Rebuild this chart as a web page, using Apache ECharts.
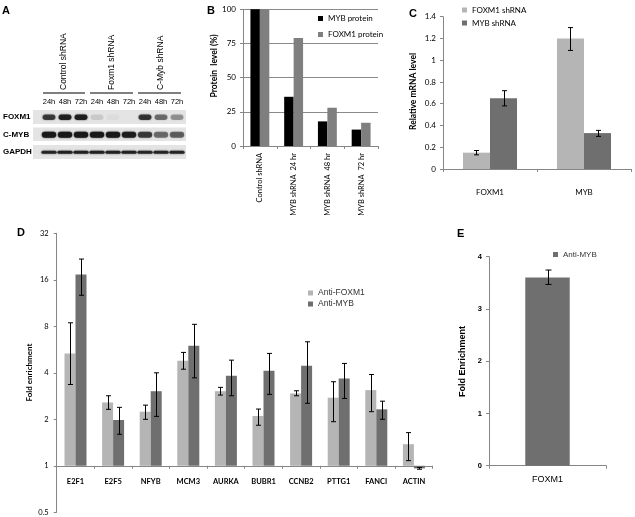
<!DOCTYPE html>
<html><head><meta charset="utf-8">
<script src="https://cdn.jsdelivr.net/npm/echarts@6/dist/echarts.min.js"></script>
<style>html,body{margin:0;padding:0;background:#fff}#c{width:635px;height:517px}</style>
</head><body><div id="c"></div>
<script>
// ---------- Panel A (western blot, band darkness 0..1) ----------
const blotLanes = ['24h','48h','72h','24h','48h','72h','24h','48h','72h'];
const blotGroups = ['Control shRNA','Foxm1 shRNA','C-Myb shRNA'];
const blotRows = ['FOXM1','C-MYB','GAPDH'];
const bandFOXM1 = [0.72,0.88,0.9,0.12,0.04,0.0,0.75,0.5,0.35];
const bandCMYB  = [0.95,0.95,0.95,0.95,0.95,0.9,0.72,0.5,0.55];
const bandGAPDH = [0.85,0.88,0.88,0.88,0.88,0.88,0.85,0.85,0.85];

// ---------- Panel B ----------
const bCategories = ['Control shRNA','MYB shRNA  24 hr','MYB shRNA  48 hr','MYB shRNA  72 hr'];
const bMYBprotein = [100,36,18,12];
const bFOXM1protein = [100,79,28,17];
const bTicks = [0,25,50,75,100];

// ---------- Panel C ----------
const cCategories = ['FOXM1','MYB'];
const cFOXM1sh = [0.15,1.2];
const cFOXM1shLo = [0.13,1.09];
const cFOXM1shHi = [0.17,1.30];
const cMYBsh = [0.65,0.33];
const cMYBshLo = [0.58,0.30];
const cMYBshHi = [0.72,0.355];
const cTicks = [0,0.2,0.4,0.6,0.8,1,1.2,1.4];

// ---------- Panel D (log2 axis) ----------
const dCategories = ['E2F1','E2F5','NFYB','MCM3','AURKA','BUBR1','CCNB2','PTTG1','FANCI','ACTIN'];
const dAntiFOXM1   = [5.34,2.57,2.24,4.78,3.04,2.10,2.94,2.76,3.09,1.38];
const dAntiFOXM1Lo = [3.36,2.32,2.00,4.22,2.87,1.83,2.84,1.93,2.24,1.08];
const dAntiFOXM1Hi = [8.43,2.84,2.47,5.42,3.22,2.33,3.06,3.50,3.90,1.64];
const dAntiMYB     = [17.3,1.98,3.04,5.98,3.83,4.12,4.44,3.68,2.32,0.962];
const dAntiMYBLo   = [12.7,1.60,2.09,3.71,2.84,2.90,2.54,2.73,2.00,0.95];
const dAntiMYBHi   = [21.8,2.39,4.00,8.24,4.83,5.34,6.35,4.60,2.62,0.975];
const dTicks = [0.5,1,2,4,8,16,32];

// ---------- Panel E ----------
const eCategories = ['FOXM1'];
const eAntiMYB = [3.6];
const eAntiMYBLo = [3.47];
const eAntiMYBHi = [3.745];
const eTicks = [0,1,2,3,4];

// ---------- styles ----------
const ARIAL = 'Liberation Sans, Arial, sans-serif';
const CAL = 'Lato, sans-serif';
const LIGHT = '#b5b5b5', DARK = '#6f6f6f', AXC = '#868686';
const bandStyle = {heights:[5.5,6,3], widthFrac:[0.8,0.9,0.95], color:'#161616'};
const dGridHeight = 279;
// the category axis of D sits on the value 1 line (one step above the 0.5 bottom)
const dAxisOffset = -dGridHeight / (dTicks.length - 1);

const log2 = v => Math.log2(v);

// blot data
const blotData = [];
[bandFOXM1, bandCMYB, bandGAPDH].forEach((arr, r) => arr.forEach((v, l) => blotData.push([l, r, v])));

function renderBand(params, api) {
  const lane = api.value(0), row = api.value(1), inten = api.value(2);
  const c = api.coord([lane, row]);
  const lw = api.size([1, 0])[0];
  const h = bandStyle.heights[row], w = lw * bandStyle.widthFrac[row];
  return {type:'rect', shape:{x:c[0]-w/2, y:c[1]-h/2, width:w, height:h, r:h/2},
    style:{fill:bandStyle.color, opacity:inten, shadowBlur:2, shadowColor:'rgba(0,0,0,'+(inten*0.8)+')'}};
}

function errRenderer(sign, gap, cap) {
  return function (params, api) {
    const x = api.value(0);
    const p1 = api.coord([x, api.value(1)]);
    const p2 = api.coord([x, api.value(2)]);
    const cw = api.size([1, 0])[0];
    const bw = cw * (1 - gap) / 2;
    const cx = Math.round(p1[0] + sign * bw / 2) + 0.5;
    const st = {stroke:'#000', lineWidth:1};
    return {type:'group', children:[
      {type:'line', shape:{x1:cx, y1:p1[1], x2:cx, y2:p2[1]}, style:st},
      {type:'line', shape:{x1:cx-cap, y1:p1[1], x2:cx+cap, y2:p1[1]}, style:st},
      {type:'line', shape:{x1:cx-cap, y1:p2[1], x2:cx+cap, y2:p2[1]}, style:st}
    ]};
  };
}
const errData = (lo, hi, f) => lo.map((v, i) => [i, f ? f(v) : v, f ? f(hi[i]) : hi[i]]);

const bGap = 0.44, cGap = 0.425, dGap = 0.415, eGap = 0.62;

function valAxis(gridIndex, extra) {
  return Object.assign({
    type:'value', gridIndex,
    axisLine:{show:true, lineStyle:{color:AXC, width:1}},
    axisTick:{show:true, length:3, lineStyle:{color:AXC}},
    axisLabel:{fontSize:8, color:'#000', fontFamily:CAL, margin:7},
    splitLine:{show:false}
  }, extra);
}
function catAxis(gridIndex, data, extra) {
  return Object.assign({
    type:'category', gridIndex, data,
    axisLine:{show:true, onZero:false, lineStyle:{color:AXC, width:1}},
    axisTick:{show:true, length:3, lineStyle:{color:AXC}},
    axisLabel:{fontSize:7.5, color:'#000', fontFamily:CAL, interval:0}
  }, extra);
}

const option = {
  backgroundColor:'#fff',
  animation:false,
  textStyle:{fontFamily:ARIAL},
  grid:[
    {left:41, top:108.5, width:144, height:52.5, outerBoundsMode:'none'},
    {left:243, top:9.3, width:135, height:136.7, outerBoundsMode:'none'},
    {left:443, top:16.7, width:188, height:152.3, outerBoundsMode:'none'},
    {left:56.7, top:233.3, width:376, height:dGridHeight, outerBoundsMode:'none'},
    {left:489, top:256.7, width:117, height:209, outerBoundsMode:'none'}
  ],
  xAxis:[
    {type:'category', gridIndex:0, data:blotLanes, position:'top',
      axisLine:{show:false}, axisTick:{show:false},
      axisLabel:{fontSize:7.5, color:'#000', fontFamily:ARIAL, margin:3, interval:0}},
    catAxis(1, bCategories, {axisLabel:{fontSize:7.5, color:'#000', fontFamily:CAL, interval:0, rotate:90, margin:7}}),
    catAxis(2, cCategories, {axisLabel:{fontSize:8, color:'#000', fontFamily:CAL, interval:0, margin:19}}),
    catAxis(3, dCategories, {position:'bottom', offset:dAxisOffset,
      axisLabel:{fontSize:7.5, color:'#000', fontFamily:CAL, fontWeight:'bold', interval:0, margin:12}}),
    catAxis(4, eCategories, {axisLabel:{fontSize:9, color:'#000', fontFamily:ARIAL, interval:0, margin:9}})
  ],
  yAxis:[
    {type:'category', gridIndex:0, data:blotRows, inverse:true,
      axisLine:{show:false}, axisTick:{show:false},
      axisLabel:{fontSize:8, fontWeight:'bold', color:'#000', fontFamily:ARIAL, align:'left', margin:38}},
    valAxis(1, {min:bTicks[0], max:bTicks[bTicks.length-1], interval:bTicks[1]-bTicks[0],
      splitLine:{show:true, lineStyle:{color:'#8a8a8a', width:1}}}),
    valAxis(2, {min:cTicks[0], max:cTicks[cTicks.length-1], interval:0.2,
      axisLabel:{fontSize:8, color:'#000', fontFamily:CAL, margin:7, formatter:v => String(+v.toFixed(1))}}),
    valAxis(3, {min:log2(dTicks[0]), max:log2(dTicks[dTicks.length-1]), interval:1,
      axisLabel:{fontSize:7.5, color:'#000', fontFamily:CAL, margin:8, formatter:v => String(Math.pow(2, v))}}),
    valAxis(4, {min:eTicks[0], max:eTicks[eTicks.length-1], interval:1,
      axisLabel:{fontSize:7.5, fontWeight:'bold', color:'#000', fontFamily:ARIAL, margin:7}})
  ],
  legend:[
    {data:['MYB protein','FOXM1 protein'], orient:'vertical', left:318, top:14, padding:0, itemGap:7,
      itemWidth:5, itemHeight:5, icon:'rect', selectedMode:false,
      textStyle:{fontSize:8, fontFamily:CAL, color:'#000', lineHeight:9}},
    {data:['FOXM1 shRNA','MYB shRNA'], orient:'vertical', left:462, top:5.5, padding:0, itemGap:4,
      itemWidth:5, itemHeight:5, icon:'rect', selectedMode:false,
      textStyle:{fontSize:8, fontFamily:CAL, color:'#000', lineHeight:9}},
    {data:['Anti-FOXM1','Anti-MYB'], orient:'vertical', left:308, top:288.5, padding:0, itemGap:2,
      itemWidth:5, itemHeight:5, icon:'rect', selectedMode:false,
      textStyle:{fontSize:8.5, fontFamily:ARIAL, color:'#333', lineHeight:9}},
    {data:['Anti-MYB'], orient:'vertical', left:553, top:250, padding:0,
      itemWidth:5, itemHeight:5, icon:'rect', selectedMode:false,
      textStyle:{fontSize:8, fontFamily:ARIAL, color:'#333', lineHeight:9}}
  ],
  series:[
    {type:'custom', xAxisIndex:0, yAxisIndex:0, data:blotData, renderItem:renderBand, silent:true, z:3},

    {type:'bar', name:'MYB protein', xAxisIndex:1, yAxisIndex:1, data:bMYBprotein,
      itemStyle:{color:'#000'}, barGap:'0%', barCategoryGap:(bGap*100)+'%'},
    {type:'bar', name:'FOXM1 protein', xAxisIndex:1, yAxisIndex:1, data:bFOXM1protein,
      itemStyle:{color:'#7f7f7f'}, barGap:'0%', barCategoryGap:(bGap*100)+'%'},

    {type:'bar', name:'FOXM1 shRNA', xAxisIndex:2, yAxisIndex:2, data:cFOXM1sh,
      itemStyle:{color:LIGHT}, barGap:'0%', barCategoryGap:(cGap*100)+'%'},
    {type:'bar', name:'MYB shRNA', xAxisIndex:2, yAxisIndex:2, data:cMYBsh,
      itemStyle:{color:DARK}, barGap:'0%', barCategoryGap:(cGap*100)+'%'},
    {type:'custom', xAxisIndex:2, yAxisIndex:2, data:errData(cFOXM1shLo, cFOXM1shHi),
      renderItem:errRenderer(-1, cGap, 2.5), z:5, silent:true},
    {type:'custom', xAxisIndex:2, yAxisIndex:2, data:errData(cMYBshLo, cMYBshHi),
      renderItem:errRenderer(1, cGap, 2.5), z:5, silent:true},

    {type:'bar', name:'Anti-FOXM1', xAxisIndex:3, yAxisIndex:3, data:dAntiFOXM1.map(log2),
      itemStyle:{color:LIGHT}, barGap:'0%', barCategoryGap:(dGap*100)+'%'},
    {type:'bar', name:'Anti-MYB', xAxisIndex:3, yAxisIndex:3, data:dAntiMYB.map(log2),
      itemStyle:{color:DARK}, barGap:'0%', barCategoryGap:(dGap*100)+'%'},
    {type:'custom', xAxisIndex:3, yAxisIndex:3, data:errData(dAntiFOXM1Lo, dAntiFOXM1Hi, log2),
      renderItem:errRenderer(-1, dGap, 2.5), z:5, silent:true},
    {type:'custom', xAxisIndex:3, yAxisIndex:3, data:errData(dAntiMYBLo, dAntiMYBHi, log2),
      renderItem:errRenderer(1, dGap, 2.5), z:5, silent:true},

    {type:'bar', name:'Anti-MYB', xAxisIndex:4, yAxisIndex:4, data:eAntiMYB,
      itemStyle:{color:DARK}, barCategoryGap:(eGap*100)+'%'},
    {type:'custom', xAxisIndex:4, yAxisIndex:4, data:errData(eAntiMYBLo, eAntiMYBHi),
      renderItem:errRenderer(0, eGap, 3), z:5, silent:true}
  ],
  graphic:[
    // panel letters
    {type:'text', left:2, top:5, style:{text:'A', font:'bold 11px '+ARIAL, fill:'#000'}},
    {type:'text', left:207, top:5, style:{text:'B', font:'bold 11px '+ARIAL, fill:'#000'}},
    {type:'text', left:409, top:8, style:{text:'C', font:'bold 11px '+ARIAL, fill:'#000'}},
    {type:'text', left:17, top:227, style:{text:'D', font:'bold 11px '+ARIAL, fill:'#000'}},
    {type:'text', left:457, top:228, style:{text:'E', font:'bold 11px '+ARIAL, fill:'#000'}},
    // blot backgrounds
    {type:'rect', z:-1, shape:{x:33, y:110, width:153, height:14}, style:{fill:'#e4e4e4'}},
    {type:'rect', z:-1, shape:{x:33, y:127.5, width:153, height:13.5}, style:{fill:'#e4e4e4'}},
    {type:'rect', z:-1, shape:{x:33, y:145, width:153, height:14}, style:{fill:'#e4e4e4'}},
    // blot group headers
    {type:'line', shape:{x1:43, y1:93, x2:85, y2:93}, style:{stroke:'#555', lineWidth:1.5}},
    {type:'line', shape:{x1:90, y1:93, x2:133, y2:93}, style:{stroke:'#555', lineWidth:1.5}},
    {type:'line', shape:{x1:138, y1:93, x2:181, y2:93}, style:{stroke:'#555', lineWidth:1.5}},
    {type:'text', x:64, y:90, rotation:Math.PI/2, style:{text:blotGroups[0], font:'8.5px '+ARIAL, fill:'#000', align:'left', verticalAlign:'middle'}},
    {type:'text', x:112, y:90, rotation:Math.PI/2, style:{text:blotGroups[1], font:'8.5px '+ARIAL, fill:'#000', align:'left', verticalAlign:'middle'}},
    {type:'text', x:161, y:90, rotation:Math.PI/2, style:{text:blotGroups[2], font:'8.5px '+ARIAL, fill:'#000', align:'left', verticalAlign:'middle'}},
    // axis titles
    {type:'text', x:214, y:66, rotation:Math.PI/2, style:{text:'Protein  level (%)', font:'bold 8.5px '+CAL, fill:'#000', align:'center', verticalAlign:'middle'}},
    {type:'text', x:413, y:91.5, rotation:Math.PI/2, style:{text:'Relative mRNA level', font:'bold 8.5px '+CAL, fill:'#000', align:'center', verticalAlign:'middle'}},
    {type:'text', x:29, y:372.5, rotation:Math.PI/2, style:{text:'Fold enrichment', font:'bold 8px '+CAL, fill:'#000', align:'center', verticalAlign:'middle'}},
    {type:'text', x:463, y:361.5, rotation:Math.PI/2, style:{text:'Fold Enrichment', font:'bold 9px '+ARIAL, fill:'#000', align:'center', verticalAlign:'middle'}}
  ]
};

const chart = echarts.init(document.getElementById('c'), null, {renderer:'canvas', width:635, height:517});
chart.setOption(option);
</script>
</body></html>
